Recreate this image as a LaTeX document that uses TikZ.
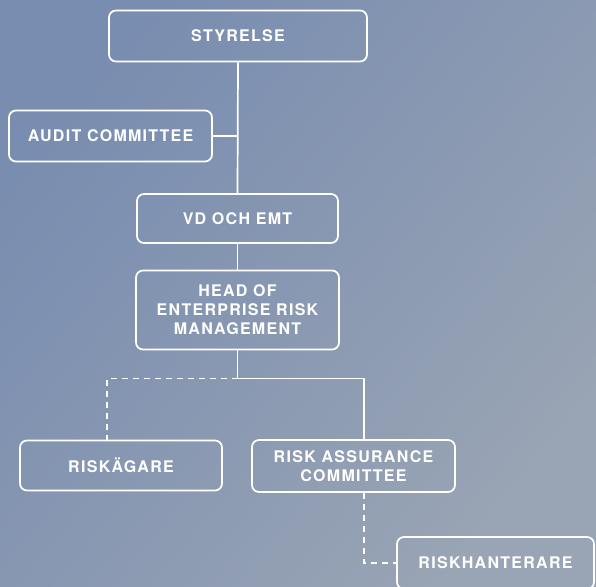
\documentclass[tikz,border=0pt]{standalone}
\usepackage{fontspec}
\newfontfamily\labfont[LetterSpace=8]{TeX Gyre Heros}
\definecolor{bgA}{RGB}{121,141,176}
\definecolor{bgB}{RGB}{153,164,180}
\begin{document}
\begin{tikzpicture}[x=1pt,y=-1pt,
  box/.style={draw=white, line width=1.7pt, rounded corners=7pt, text=white,
    align=center, inner sep=0pt, font=\labfont\bfseries\fontsize{16}{19}\selectfont},
  link/.style={draw=white, line width=1.7pt},
  dlink/.style={link, dash pattern=on 6pt off 5pt}]
\useasboundingbox (0,0) rectangle (596,586);
\shade[top color=bgA, bottom color=bgB, shading angle=50] (0,0) rectangle (596,586);
\begin{scope}
\clip (0,0) rectangle (596,586);
\node[box, minimum width=258pt, minimum height=51pt] (sty) at (238,36) {STYRELSE};
\node[box, minimum width=203pt, minimum height=51pt] (aud) at (110.5,136) {AUDIT COMMITTEE};
\node[box, minimum width=201pt, minimum height=49pt] (vd) at (237.5,218.5) {VD OCH EMT};
\node[box, minimum width=203pt, minimum height=79pt] (head) at (237.5,310) {HEAD OF\\ENTERPRISE RISK\\MANAGEMENT};
\node[box, minimum width=202pt, minimum height=50pt] (rg) at (121,465.5) {RISKÄGARE};
\node[box, minimum width=203pt, minimum height=52pt] (ra) at (353.5,466) {RISK ASSURANCE\\COMMITTEE};
\node[box, minimum width=197pt, minimum height=52pt] (rh) at (495.5,563) {RISKHANTERARE};
\draw[link] (sty.south) -- (vd.north);
\draw[link] (aud.east) -- (aud.east -| vd.north);
\draw[link] (vd.south) -- (head.north);
\draw[link] (head.south) -- ++(0,28) coordinate (j) -| ([xshift=10.5pt]ra.north);
\draw[dlink] (j) -| ([xshift=-14pt]rg.north);
\draw[dlink] ([xshift=10.5pt]ra.south) |- (rh.west);
\end{scope}
\end{tikzpicture}
\end{document}
